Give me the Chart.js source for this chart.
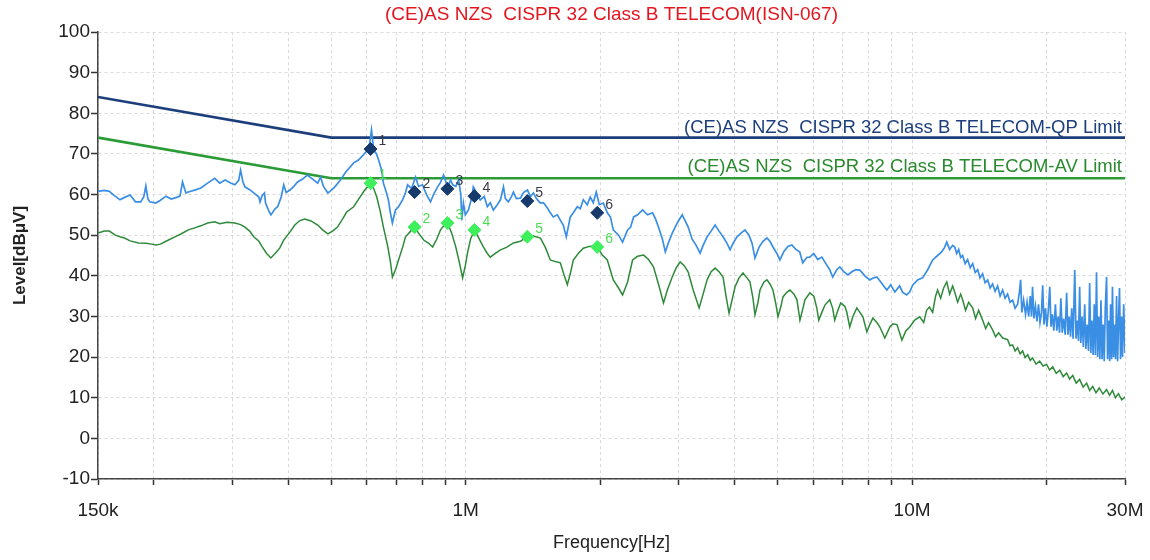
<!DOCTYPE html>
<html><head><meta charset="utf-8">
<script src="https://cdn.jsdelivr.net/npm/chart.js@4/dist/chart.umd.min.js"></script>
<style>html,body{margin:0;padding:0;background:#fff}canvas{display:block}</style>
</head><body>
<canvas id="c" width="1150" height="560"></canvas>
<script>
const chartTitle = '(CE)AS NZS  CISPR 32 Class B TELECOM(ISN-067)';
const xAxisTitle = 'Frequency[Hz]';
const yAxisTitle = 'Level[dBμV]';
const xTickValues = [0.15,0.2,0.3,0.4,0.5,0.6,0.7,0.8,0.9,1,2,3,4,5,6,7,8,9,10,20,30];
const xLabelValues = [0.15,1,10,30];
const xLabelTexts = ['150k','1M','10M','30M'];
const yMin = -10, yMax = 100, yStep = 10;

const qpLimitLabel = '(CE)AS NZS  CISPR 32 Class B TELECOM-QP Limit';
const avLimitLabel = '(CE)AS NZS  CISPR 32 Class B TELECOM-AV Limit';
const qpLimit = [[0.15,84],[0.5,74],[30,74]];
const avLimit = [[0.15,74],[0.5,64],[30,64]];

const markerNumbers = ['1','2','3','4','5','6'];
const qpMarkers = [[0.612,71.2],[0.768,60.6],[0.910,61.4],[1.046,59.6],[1.374,58.4],[1.971,55.5]];
const avMarkers = [[0.612,62.8],[0.768,52.0],[0.910,53.0],[1.046,51.3],[1.374,49.6],[1.971,47.1]];

const qpTrace = [[0.150,60.8],[0.155,61.0],[0.159,60.8],[0.163,59.8],[0.168,58.7],[0.172,59.3],[0.177,59.9],[0.182,58.2],[0.187,58.2],[0.190,59.5],[0.192,62.1],[0.194,59.0],[0.196,58.2],[0.202,57.9],[0.207,58.6],[0.213,59.6],[0.219,58.9],[0.225,59.3],[0.229,59.6],[0.232,63.1],[0.236,60.4],[0.242,60.8],[0.247,61.1],[0.255,61.6],[0.264,62.8],[0.274,64.0],[0.281,62.8],[0.289,63.6],[0.298,62.8],[0.304,62.4],[0.310,63.5],[0.313,66.0],[0.317,63.0],[0.320,61.9],[0.328,61.2],[0.335,60.4],[0.344,59.4],[0.346,58.2],[0.350,59.8],[0.354,60.4],[0.356,57.9],[0.362,56.0],[0.366,55.0],[0.374,56.5],[0.379,57.0],[0.386,59.4],[0.391,62.4],[0.396,60.5],[0.404,61.1],[0.412,62.0],[0.420,63.1],[0.431,63.8],[0.442,64.8],[0.454,63.8],[0.466,62.8],[0.473,64.3],[0.480,62.0],[0.491,60.4],[0.498,60.9],[0.509,61.9],[0.524,63.6],[0.538,65.5],[0.561,67.8],[0.575,68.5],[0.587,69.5],[0.603,71.0],[0.609,72.5],[0.615,75.9],[0.622,71.0],[0.631,70.0],[0.638,68.5],[0.648,66.0],[0.654,62.8],[0.664,60.5],[0.671,58.7],[0.678,55.5],[0.685,53.0],[0.696,56.2],[0.707,57.0],[0.722,58.7],[0.733,60.5],[0.741,62.4],[0.756,61.5],[0.772,64.3],[0.784,62.0],[0.800,62.4],[0.817,60.0],[0.834,58.2],[0.847,60.0],[0.865,61.9],[0.878,63.0],[0.892,64.8],[0.911,62.0],[0.925,63.5],[0.935,62.4],[0.950,62.0],[0.964,63.6],[0.975,60.0],[0.980,53.7],[0.988,57.9],[0.998,55.0],[1.014,56.2],[1.030,59.0],[1.040,61.9],[1.056,60.5],[1.078,58.7],[1.100,59.5],[1.118,57.0],[1.135,58.0],[1.153,56.2],[1.177,57.5],[1.196,58.7],[1.215,61.9],[1.227,59.0],[1.246,58.2],[1.266,59.5],[1.279,60.6],[1.299,59.0],[1.326,59.1],[1.347,60.5],[1.375,61.1],[1.396,59.5],[1.418,60.4],[1.440,59.0],[1.470,57.9],[1.493,58.0],[1.524,56.7],[1.547,55.5],[1.571,54.5],[1.604,55.0],[1.629,53.7],[1.654,52.5],[1.680,49.6],[1.697,52.0],[1.715,54.5],[1.742,55.5],[1.778,57.0],[1.806,56.5],[1.834,58.7],[1.872,57.5],[1.901,59.4],[1.931,58.0],[1.961,60.6],[1.992,57.5],[2.034,57.9],[2.076,55.5],[2.109,54.5],[2.141,51.3],[2.200,50.0],[2.246,48.3],[2.305,51.3],[2.341,52.0],[2.378,54.5],[2.427,55.0],[2.490,56.2],[2.555,55.0],[2.621,55.5],[2.662,54.0],[2.703,52.0],[2.759,49.0],[2.800,45.9],[2.843,48.0],[2.902,50.5],[2.978,53.0],[3.055,55.0],[3.103,53.5],[3.151,52.0],[3.216,49.0],[3.283,47.5],[3.351,45.6],[3.403,47.5],[3.474,49.6],[3.546,51.0],[3.620,52.5],[3.695,51.0],[3.772,49.6],[3.850,48.0],[3.911,46.4],[3.971,48.0],[4.054,49.6],[4.138,50.5],[4.224,51.3],[4.311,50.0],[4.379,48.1],[4.447,44.4],[4.540,47.0],[4.634,48.5],[4.730,49.3],[4.804,48.5],[4.879,47.1],[4.980,45.5],[5.058,43.9],[5.163,46.0],[5.270,47.2],[5.380,47.6],[5.490,46.5],[5.600,45.9],[5.690,43.2],[5.810,44.5],[5.900,44.6],[6.020,45.5],[6.150,44.0],[6.280,44.6],[6.410,43.0],[6.540,41.5],[6.640,39.7],[6.780,41.5],[6.890,42.2],[7.030,41.0],[7.180,40.2],[7.330,41.0],[7.480,41.5],[7.640,41.4],[7.840,40.0],[8.040,39.0],[8.210,39.5],[8.340,39.7],[8.510,38.5],[8.640,37.5],[8.780,36.5],[8.960,37.8],[9.150,36.0],[9.380,37.5],[9.520,36.0],[9.720,35.3],[9.880,36.0],[10.03,37.7],[10.29,39.0],[10.56,39.5],[10.84,41.5],[11.12,43.9],[11.41,45.0],[11.65,45.9],[11.83,47.0],[11.96,48.3],[12.14,46.5],[12.33,47.5],[12.46,47.1],[12.59,45.5],[12.72,46.5],[12.85,44.5],[12.98,45.0],[13.15,43.0],[13.32,44.0],[13.50,42.0],[13.67,43.0],[13.85,40.8],[14.03,41.5],[14.20,39.5],[14.39,40.5],[14.58,38.3],[14.77,39.0],[14.96,37.0],[15.15,38.0],[15.35,36.2],[15.55,37.5],[15.75,35.0],[15.96,36.5],[16.16,34.5],[16.37,35.5],[16.58,33.5],[16.80,34.0],[17.02,32.0],[17.24,33.0],[17.40,36.0],[17.51,39.0],[17.62,31.0],[17.78,34.0],[17.96,30.5],[18.10,33.5],[18.25,30.0],[18.40,35.0],[18.52,30.0],[18.62,37.3],[18.75,29.5],[18.90,32.5],[19.05,28.8],[19.20,33.0],[19.35,28.5],[19.50,31.0],[19.62,37.7],[19.75,28.0],[19.90,32.0],[20.05,27.5],[20.20,31.5],[20.35,37.3],[20.48,27.5],[20.62,30.5],[20.78,26.5],[20.95,33.0],[21.10,26.5],[21.25,30.0],[21.40,26.0],[21.55,34.5],[21.70,26.0],[21.86,29.5],[22.03,25.5],[22.20,35.8],[22.35,25.5],[22.50,30.0],[22.65,25.0],[22.79,32.0],[22.95,24.5],[23.15,41.4],[23.30,24.5],[23.45,29.0],[23.60,24.0],[23.74,37.3],[23.88,23.5],[24.05,30.0],[24.20,22.5],[24.37,33.0],[24.52,22.0],[24.68,28.0],[24.85,21.5],[25.00,38.2],[25.15,21.0],[25.30,29.0],[25.45,20.5],[25.60,33.0],[25.75,20.5],[25.90,40.9],[26.05,20.0],[26.20,30.0],[26.35,19.5],[26.50,34.0],[26.65,19.5],[26.80,28.0],[26.95,19.0],[27.10,32.0],[27.28,39.7],[27.42,19.5],[27.57,29.0],[27.72,19.0],[27.85,33.0],[28.00,19.5],[28.12,37.3],[28.28,20.0],[28.42,28.0],[28.58,19.5],[28.72,35.0],[28.88,19.0],[29.02,29.0],[29.16,37.0],[29.32,19.5],[29.47,30.0],[29.62,20.0],[29.80,33.0],[30.00,21.0]];

const avTrace = [[0.150,50.5],[0.155,51.0],[0.159,51.0],[0.164,50.0],[0.168,49.6],[0.172,49.3],[0.177,48.6],[0.185,48.1],[0.192,48.0],[0.198,47.8],[0.202,47.6],[0.207,47.8],[0.213,48.5],[0.223,49.6],[0.230,50.3],[0.239,51.3],[0.247,51.8],[0.255,52.3],[0.264,53.0],[0.274,53.3],[0.281,52.8],[0.292,53.2],[0.304,53.0],[0.313,52.6],[0.320,52.0],[0.328,51.0],[0.335,49.6],[0.344,48.5],[0.350,47.1],[0.358,45.5],[0.366,44.4],[0.374,45.5],[0.383,46.8],[0.391,48.8],[0.404,50.8],[0.414,52.5],[0.425,53.6],[0.436,54.0],[0.450,53.5],[0.466,52.5],[0.478,51.3],[0.491,50.3],[0.503,51.0],[0.516,52.0],[0.530,54.0],[0.541,55.7],[0.561,57.0],[0.575,58.8],[0.593,61.0],[0.612,62.8],[0.622,61.5],[0.632,59.4],[0.643,56.0],[0.654,52.0],[0.668,47.5],[0.678,43.5],[0.685,39.7],[0.696,41.5],[0.707,43.9],[0.722,47.0],[0.733,49.6],[0.753,51.0],[0.768,52.0],[0.784,50.5],[0.805,48.8],[0.826,48.0],[0.843,47.1],[0.861,49.0],[0.878,51.3],[0.896,52.5],[0.911,53.0],[0.930,50.5],[0.950,47.1],[0.969,43.0],[0.984,39.5],[0.998,42.5],[1.009,45.6],[1.025,49.0],[1.046,51.3],[1.067,49.5],[1.095,47.1],[1.118,45.5],[1.135,44.6],[1.165,45.5],[1.196,46.4],[1.234,47.0],[1.279,48.1],[1.326,48.5],[1.374,49.6],[1.418,49.8],[1.470,49.3],[1.508,47.0],[1.547,43.9],[1.587,43.5],[1.629,43.2],[1.663,40.0],[1.689,37.8],[1.715,40.5],[1.742,43.9],[1.787,45.5],[1.834,46.8],[1.901,47.3],[1.971,47.1],[2.023,45.1],[2.076,43.9],[2.141,39.0],[2.200,37.0],[2.246,35.3],[2.305,38.5],[2.365,43.9],[2.427,44.8],[2.503,45.1],[2.568,44.0],[2.634,42.2],[2.703,38.0],[2.774,33.3],[2.830,36.5],[2.902,39.7],[2.963,42.0],[3.024,43.4],[3.087,42.5],[3.151,40.9],[3.233,36.5],[3.334,32.1],[3.403,35.5],[3.474,39.0],[3.546,41.0],[3.620,41.9],[3.695,41.0],[3.772,39.7],[3.830,35.0],[3.890,30.8],[3.950,34.0],[4.013,37.3],[4.096,39.5],[4.180,40.7],[4.267,39.5],[4.333,38.5],[4.401,34.5],[4.447,30.4],[4.517,33.5],[4.563,36.5],[4.658,38.5],[4.730,39.0],[4.804,38.0],[4.879,36.5],[4.955,33.0],[5.007,29.9],[5.085,32.5],[5.138,34.8],[5.245,36.0],[5.327,36.5],[5.438,35.5],[5.522,34.1],[5.608,29.1],[5.695,32.0],[5.754,34.1],[5.903,35.8],[6.026,35.0],[6.120,32.0],[6.180,29.1],[6.280,31.0],[6.380,32.8],[6.540,34.1],[6.640,32.0],[6.710,29.1],[6.820,31.5],[6.920,33.3],[7.070,32.5],[7.140,31.1],[7.250,27.4],[7.370,30.0],[7.520,32.1],[7.640,31.0],[7.760,29.9],[7.920,26.2],[8.040,28.0],[8.170,29.6],[8.340,28.5],[8.470,27.4],[8.690,24.7],[8.920,27.4],[9.060,28.2],[9.250,28.0],[9.490,24.2],[9.690,26.5],[9.880,27.4],[10.14,29.1],[10.40,29.9],[10.62,28.5],[10.78,31.5],[10.94,32.3],[11.12,31.0],[11.29,35.0],[11.41,36.5],[11.59,34.5],[11.77,37.0],[11.96,38.5],[12.14,35.5],[12.33,37.5],[12.46,36.0],[12.65,33.5],[12.85,35.5],[12.98,34.1],[13.18,31.5],[13.39,33.5],[13.67,32.1],[13.88,29.5],[14.10,31.5],[14.39,29.1],[14.62,27.0],[14.84,28.5],[15.15,26.7],[15.39,25.0],[15.63,26.0],[15.96,24.7],[16.37,24.3],[16.58,22.8],[16.80,23.0],[17.02,21.5],[17.24,22.3],[17.46,20.8],[17.69,21.5],[17.92,19.9],[18.16,20.6],[18.40,19.2],[18.62,19.8],[18.96,18.3],[19.31,19.0],[19.66,17.8],[20.02,18.2],[20.34,16.8],[20.66,17.6],[21.04,16.0],[21.43,16.8],[21.81,15.2],[22.20,16.1],[22.55,14.6],[22.91,15.5],[23.32,13.6],[23.74,14.5],[24.17,12.6],[24.61,13.6],[25.00,11.8],[25.40,12.8],[25.83,11.2],[26.27,12.4],[26.77,10.9],[27.28,12.0],[27.70,10.6],[28.12,11.8],[28.56,10.0],[29.00,11.0],[29.50,9.5],[30.00,10.2]];

const toXY = arr => arr.map(([f, v]) => ({x: f, y: v}));
const FONT = '"Liberation Sans", Arial, sans-serif';
Chart.defaults.font.family = FONT;

const annotations = {
  id: 'annotations',
  afterDatasetsDraw(chart) {
    const {ctx, chartArea, scales: {y}} = chart;
    ctx.save();
    ctx.font = '18.5px ' + FONT;
    ctx.textAlign = 'right';
    ctx.textBaseline = 'alphabetic';
    ctx.fillStyle = '#1d3f7d';
    ctx.fillText(qpLimitLabel, chartArea.right - 3, y.getPixelForValue(qpLimit[qpLimit.length-1][1]) - 5);
    ctx.fillStyle = '#2a8a2e';
    ctx.fillText(avLimitLabel, chartArea.right - 3, y.getPixelForValue(avLimit[avLimit.length-1][1]) - 6);
    ctx.font = '14px ' + FONT;
    ctx.textAlign = 'left';
    ctx.textBaseline = 'middle';
    ctx.fillStyle = '#3a3a48';
    chart.getDatasetMeta(0).data.forEach((p, i) => ctx.fillText(markerNumbers[i], p.x + 8, p.y - 8));
    ctx.fillStyle = '#4ddd55';
    chart.getDatasetMeta(1).data.forEach((p, i) => ctx.fillText(markerNumbers[i], p.x + 8, p.y - 8));
    ctx.restore();
  }
};

const gridCommon = {color: '#dadada', lineWidth: 1, tickColor: '#333', tickWidth: 1.5};
const borderCommon = {display: true, color: '#444', width: 1.5, dash: [3, 3]};

new Chart(document.getElementById('c'), {
  type: 'line',
  data: {
    datasets: [
      {data: toXY(qpMarkers), showLine: false, pointStyle: 'rectRot', pointRadius: 6.5, pointBackgroundColor: '#163a6c', pointBorderColor: '#163a6c', pointBorderWidth: 1, order: 0},
      {data: toXY(avMarkers), showLine: false, pointStyle: 'rectRot', pointRadius: 6.5, pointBackgroundColor: '#3ef05c', pointBorderColor: '#3ef05c', pointBorderWidth: 1, order: 0},
      {data: toXY(qpTrace), borderColor: '#3a8ee4', borderWidth: 1.7, pointRadius: 0, tension: 0, order: 1},
      {data: toXY(avTrace), borderColor: '#2e8a3a', borderWidth: 1.5, pointRadius: 0, tension: 0, order: 2},
      {data: toXY(qpLimit), borderColor: '#1c3f7c', borderWidth: 2.6, pointRadius: 0, tension: 0, order: 3},
      {data: toXY(avLimit), borderColor: '#2a9b36', borderWidth: 2.6, pointRadius: 0, tension: 0, order: 4}
    ]
  },
  options: {
    responsive: false,
    animation: false,
    devicePixelRatio: 1,
    layout: {padding: {left: 0, right: 25, top: 0, bottom: 0}},
    plugins: {
      legend: {display: false},
      tooltip: {enabled: false},
      title: {display: true, text: chartTitle, color: '#e3161f', fullSize: false,
              font: {size: 19, weight: 'normal'}, padding: {top: 3, bottom: 6.2}}
    },
    scales: {
      x: {
        type: 'logarithmic', min: 0.15, max: 30,
        afterBuildTicks(s) { s.ticks = xTickValues.map(v => ({value: v})); },
        ticks: {autoSkip: false, maxRotation: 0, minRotation: 0, color: '#222', font: {size: 19}, padding: 14,
                callback(v) { const i = xLabelValues.indexOf(v); return i >= 0 ? xLabelTexts[i] : ''; }},
        grid: Object.assign({tickLength: 6}, gridCommon),
        border: borderCommon,
        title: {display: true, text: xAxisTitle, color: '#222', font: {size: 18}, padding: {top: 0, bottom: 6}},
        afterFit(s) { s.height = 81; s.paddingLeft = 0; s.paddingRight = 0; }
      },
      y: {
        min: yMin, max: yMax,
        ticks: {stepSize: yStep, color: '#222', font: {size: 19}, padding: 1},
        grid: Object.assign({tickLength: 7}, gridCommon),
        border: borderCommon,
        title: {display: true, text: yAxisTitle, color: '#222', font: {size: 17, weight: 'bold'}, padding: {top: 10, bottom: 0}},
        afterFit(s) { s.width = 98; }
      }
    }
  },
  plugins: [annotations]
});
</script>
</body></html>
